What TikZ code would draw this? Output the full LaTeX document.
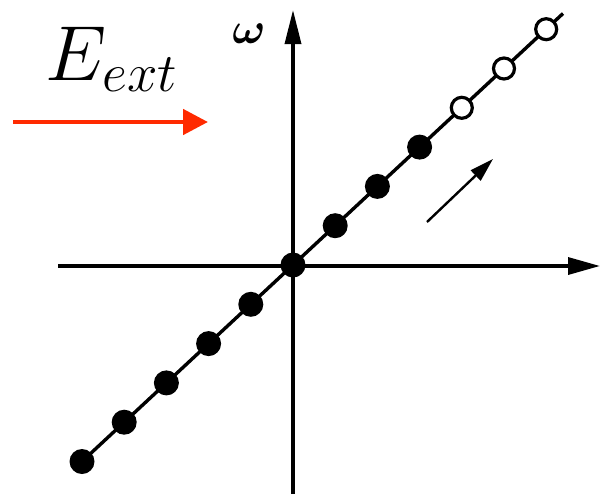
\documentclass[tikz,border=0pt]{standalone}
\usepackage{fix-cm}
\usepackage{amsmath}
\usepackage{tikz}
\usetikzlibrary{arrows.meta,backgrounds}
\definecolor{field}{HTML}{FF2A00}

\begin{document}
\begin{tikzpicture}[
          x=0.5pt, y=-0.5pt,
          axis/.style = {line width=1.7pt, -{Triangle[length=16pt, width=8.5pt]}},
          fdot/.style = {circle, fill=black, minimum size=12.5pt, inner sep=0pt},
          odot/.style = {circle, draw, line width=1.6pt, fill=white,
                         minimum size=10.5pt, inner sep=0pt},
          efield/.style = {line width=2.4pt, draw=field,
                           -{Triangle[length=12.5pt, width=12.5pt]}},
          drift/.style = {line width=1.2pt, -{Triangle[length=12pt, width=7pt]}},
        ]
        \useasboundingbox (0,0) rectangle (601,494);

        % axes ends
        \coordinate (xl) at (58,266);
        \coordinate (xr) at (600,266);
        \coordinate (yb) at (293,494);
        \coordinate (yt) at (293,10);
        \coordinate (lend) at (563,13.5);

        % filled states
        \node[fdot] (pm5) at (82.0,461.5) {};
        \node[fdot] (pm4) at (124.2,422.2) {};
        \node[fdot] (pm3) at (166.4,382.9) {};
        \node[fdot] (pm2) at (208.6,343.6) {};
        \node[fdot] (pm1) at (250.8,304.3) {};
        \node[fdot] (p0)  at (293,265) {};
        \node[fdot] (p1)  at (335.2,225.7) {};
        \node[fdot] (p2)  at (377.4,186.4) {};
        \node[fdot] (p3)  at (419.6,147.1) {};
        % empty states
        \node[odot] (q4) at (461.8,107.8) {};
        \node[odot] (q5) at (504.0,68.5) {};
        \node[odot] (q6) at (546.2,29.2) {};

        \node (om) at (249,34) {\fontsize{22}{26}\selectfont$\boldsymbol{\omega}$};
        \node[anchor=base] (eext) at (112,80) {\fontsize{39}{46}\selectfont$E_{ext}$};

        \coordinate (e0) at (13,122);
        \coordinate (e1) at (208,122);
        \coordinate (m0) at (427,222);
        \coordinate (m1) at (493,159);

        \begin{scope}[on background layer]
          \draw[axis] (xl) -- (xr);
          \draw[axis, -{Triangle[length=17pt, width=8pt]}] (yb) -- (yt);
          \draw[line width=1.7pt] (pm5.center) -- (lend);
        \end{scope}
        \draw[efield] (e0) -- (e1);
        \draw[drift] (m0) -- (m1);
      \end{tikzpicture}
\end{document}
